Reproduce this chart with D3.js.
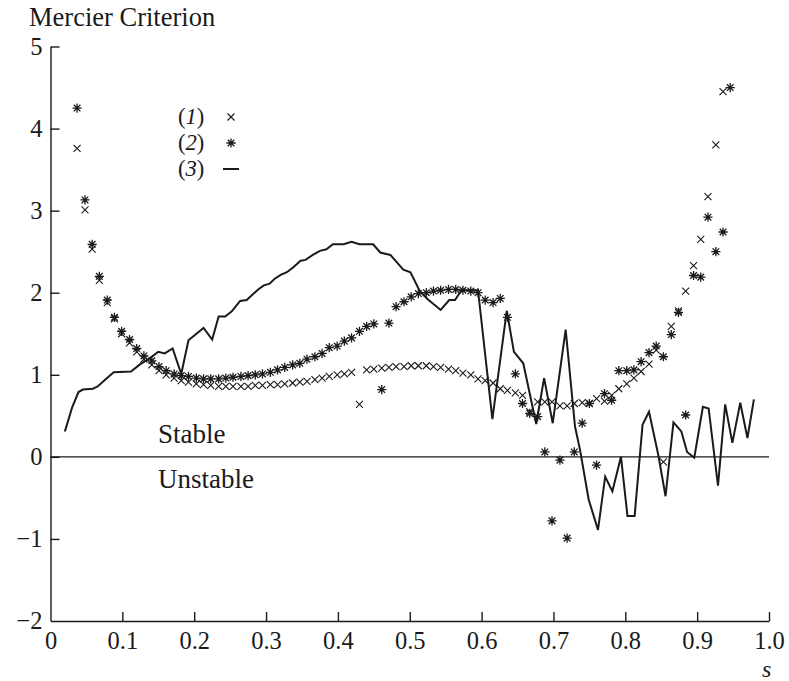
<!DOCTYPE html>
<html>
<head>
<meta charset="utf-8">
<script src="https://cdn.jsdelivr.net/npm/d3@7"></script>
<style>
  html, body { margin: 0; padding: 0; background: #fff; }
  svg { display: block; }
  svg text { font-family: "Liberation Serif", "Tinos", "Nimbus Roman", "Times New Roman", "Times", "DejaVu Serif", serif !important; fill: #1a1a1a; }
</style>
</head>
<body>
<svg id="chart" width="789" height="681"></svg>
<script>
// Radial coordinate s at which the criterion was evaluated (series 1 and 2)
const sGrid = [
  0.037, 0.048, 0.058, 0.068, 0.079, 0.089, 0.099, 0.110, 0.120, 0.130,
  0.141, 0.151, 0.161, 0.172, 0.182, 0.192, 0.203, 0.213, 0.223, 0.234,
  0.244, 0.254, 0.265, 0.275, 0.285, 0.295, 0.306, 0.316, 0.326, 0.337,
  0.347, 0.357, 0.368, 0.378, 0.388, 0.399, 0.409, 0.419, 0.430, 0.440,
  0.450, 0.461, 0.471, 0.481, 0.492, 0.502, 0.512, 0.523, 0.533, 0.543,
  0.554, 0.564, 0.574, 0.585, 0.595, 0.605, 0.616, 0.626, 0.636, 0.647,
  0.657, 0.667, 0.678, 0.688, 0.698, 0.709, 0.719, 0.729, 0.740, 0.750,
  0.760, 0.771, 0.781, 0.791, 0.802, 0.812, 0.822, 0.833, 0.843, 0.853,
  0.864, 0.874, 0.884, 0.895, 0.905, 0.915, 0.926, 0.936, 0.946
];

// Series (1): crosses
const series1 = [
  3.76, 3.01, 2.53, 2.15, 1.88, 1.68, 1.50, 1.39, 1.28, 1.19,
  1.12, 1.05, 1.00, 0.96, 0.93, 0.91, 0.89, 0.88, 0.87, 0.86,
  0.86, 0.86, 0.86, 0.86, 0.87, 0.87, 0.88, 0.88, 0.89, 0.90,
  0.91, 0.92, 0.94, 0.96, 0.98, 1.00, 1.01, 1.03, 0.64, 1.06,
  1.07, 1.08, 1.09, 1.10, 1.10, 1.11, 1.11, 1.11, 1.10, 1.09,
  1.07, 1.05, 1.02, 1.00, 0.95, 0.93, 0.90, 0.83, 0.81, 0.78,
  0.75, 0.55, 0.67, 0.67, 0.67, 0.62, 0.62, 0.65, 0.66, 0.65,
  0.71, 0.68, 0.75, 0.83, 0.89, 0.96, 1.04, 1.13, 1.30, -0.06,
  1.59, 1.78, 2.02, 2.33, 2.65, 3.17, 3.80, 4.45, null
];

// Series (2): asterisks
const series2 = [
  4.25, 3.13, 2.59, 2.20, 1.91, 1.70, 1.53, 1.43, 1.32, 1.23,
  1.17, 1.10, 1.05, 1.01, 0.99, 0.98, 0.96, 0.95, 0.95, 0.95,
  0.96, 0.97, 0.98, 0.99, 1.00, 1.01, 1.03, 1.06, 1.09, 1.12,
  1.14, 1.19, 1.22, 1.26, 1.33, 1.35, 1.41, 1.45, 1.53, 1.59,
  1.62, 0.82, 1.63, 1.83, 1.89, 1.95, 1.99, 2.00, 2.02, 2.03,
  2.04, 2.04, 2.03, 2.02, 2.00, 1.91, 1.88, 1.93, 1.70, 1.01,
  0.65, 0.53, 0.49, 0.06, -0.78, -0.04, -0.99, 0.06, 0.41, 0.65,
  -0.10, 0.77, 0.69, 1.05, 1.05, 1.06, 1.16, 1.27, 1.35, 1.22,
  1.49, 1.76, 0.51, 2.21, 2.19, 2.92, 2.50, 2.74, 4.50
];

// Series (3): solid line
const lineS = [
  0.020, 0.030, 0.039, 0.045, 0.059, 0.066, 0.076, 0.088, 0.112, 0.125,
  0.138, 0.150, 0.159, 0.170, 0.182, 0.192, 0.213, 0.225, 0.234, 0.243,
  0.252, 0.264, 0.273, 0.289, 0.297, 0.305, 0.312, 0.321, 0.329, 0.338,
  0.348, 0.355, 0.365, 0.375, 0.384, 0.393, 0.408, 0.419, 0.430, 0.449,
  0.459, 0.473, 0.491, 0.501, 0.514, 0.525, 0.543, 0.555, 0.563, 0.572,
  0.595, 0.615, 0.635, 0.645, 0.658, 0.676, 0.687, 0.699, 0.717, 0.730,
  0.737, 0.749, 0.762, 0.772, 0.782, 0.794, 0.803, 0.813, 0.824, 0.833,
  0.846, 0.856, 0.867, 0.878, 0.886, 0.896, 0.908, 0.916, 0.929, 0.939,
  0.949, 0.960, 0.970, 0.979
];
const lineV = [
  0.31, 0.60, 0.79, 0.82, 0.83, 0.86, 0.94, 1.03, 1.04, 1.13,
  1.20, 1.28, 1.26, 1.32, 1.01, 1.42, 1.57, 1.43, 1.71, 1.71,
  1.77, 1.90, 1.91, 2.04, 2.09, 2.11, 2.17, 2.22, 2.25, 2.31,
  2.39, 2.40, 2.46, 2.51, 2.53, 2.59, 2.59, 2.62, 2.59, 2.59,
  2.49, 2.46, 2.28, 2.25, 2.02, 1.92, 1.79, 1.91, 1.91, 2.03,
  2.03, 0.46, 1.78, 1.28, 1.14, 0.40, 0.96, 0.41, 1.55, 0.37,
  0.085, -0.52, -0.89, -0.24, -0.42, 0.00, -0.72, -0.72, 0.39, 0.55,
  0.02, -0.48, 0.42, 0.31, 0.06, -0.01, 0.61, 0.59, -0.35, 0.64,
  0.17, 0.66, 0.23, 0.70
];

const xTicks = [0, 0.1, 0.2, 0.3, 0.4, 0.5, 0.6, 0.7, 0.8, 0.9, 1.0];
const xTickLabels = ["0", "0.1", "0.2", "0.3", "0.4", "0.5", "0.6", "0.7", "0.8", "0.9", "1.0"];
const yTicks = [-2, -1, 0, 1, 2, 3, 4, 5];
const yTickLabels = ["\u22122", "\u22121", "0", "1", "2", "3", "4", "5"];

const ink = "#1a1a1a";
const serif = "'Liberation Serif', Tinos, 'Nimbus Roman', 'Times New Roman', Times, 'DejaVu Serif', serif";
const svg = d3.select("#chart");

const x = d3.scaleLinear().domain([0, 1]).range([50.5, 769]);
const y = d3.scaleLinear().domain([-2, 5]).range([621, 46.5]);

// Axes with inward ticks
const xAxis = d3.axisBottom(x)
  .tickValues(xTicks)
  .tickFormat((d, i) => xTickLabels[i])
  .tickSizeInner(-9).tickSizeOuter(0).tickPadding(11);
const yAxis = d3.axisLeft(y)
  .tickValues(yTicks)
  .tickFormat((d, i) => yTickLabels[i])
  .tickSizeInner(-9).tickSizeOuter(0).tickPadding(8);

const gx = svg.append("g").attr("transform", `translate(0,${y(-2)})`).call(xAxis);
const gy = svg.append("g").attr("transform", `translate(${x(0)},0)`).call(yAxis);
[gx, gy].forEach(g => {
  g.attr("font-family", serif).attr("font-size", 24.5);
  g.selectAll("path, line").attr("stroke", ink).attr("stroke-width", 1.4);
  g.selectAll("text").attr("fill", ink);
});
gx.selectAll(".tick").filter(d => d === 0).select("line").remove();
gy.selectAll(".tick").filter(d => d === -2).select("line").remove();

// Zero line separating stable / unstable regions
svg.append("line")
  .attr("x1", x(0)).attr("x2", x(1))
  .attr("y1", y(0)).attr("y2", y(0))
  .attr("stroke", ink).attr("stroke-width", 1.4);

// Series (3) line
const lineData = lineS.map((s, i) => [s, lineV[i]]);
svg.append("path")
  .datum(lineData)
  .attr("fill", "none")
  .attr("stroke", ink)
  .attr("stroke-width", 2)
  .attr("stroke-linejoin", "miter")
  .attr("d", d3.line().x(d => x(d[0])).y(d => y(d[1])));

// Marker symbols
const crossPath = r => `M${-r},${-r}L${r},${r}M${-r},${r}L${r},${-r}`;
const starPath = r => {
  const d = r * 0.72;
  return `M0,${-r}L0,${r}M${-r},0L${r},0M${-d},${-d}L${d},${d}M${-d},${d}L${d},${-d}`;
};

const pts1 = sGrid.map((s, i) => [s, series1[i]]).filter(d => d[1] !== null);
const pts2 = sGrid.map((s, i) => [s, series2[i]]).filter(d => d[1] !== null);

svg.append("g").selectAll("path").data(pts1).join("path")
  .attr("transform", d => `translate(${x(d[0])},${y(d[1])})`)
  .attr("d", crossPath(3.5))
  .attr("fill", "none").attr("stroke", ink).attr("stroke-width", 1.1);

svg.append("g").selectAll("path").data(pts2).join("path")
  .attr("transform", d => `translate(${x(d[0])},${y(d[1])})`)
  .attr("d", starPath(4.6))
  .attr("fill", "none").attr("stroke", ink).attr("stroke-width", 1.3);

// Titles and annotations
const addText = (tx, ty, str, size) => svg.append("text")
  .attr("x", tx).attr("y", ty)
  .attr("font-family", serif).attr("font-size", size)
  .text(str);
addText(29, 26, "Mercier Criterion", 26.5);
addText(762, 677, "s", 24).attr("font-style", "italic");
addText(158, 443, "Stable", 27);
addText(158, 488, "Unstable", 27);

// Legend
const legendLabels = ["1", "2", "3"];
const legendY = [124, 150, 176];
legendLabels.forEach((lab, i) => {
  const t = svg.append("text").attr("x", 178).attr("y", legendY[i])
    .attr("font-family", serif).attr("font-size", 22.5);
  t.append("tspan").text("(");
  t.append("tspan").attr("font-style", "italic").text(lab);
  t.append("tspan").text(")");
});
svg.append("path")
  .attr("transform", `translate(231,${legendY[0] - 7})`)
  .attr("d", crossPath(3.5))
  .attr("fill", "none").attr("stroke", ink).attr("stroke-width", 1.1);
svg.append("path")
  .attr("transform", `translate(231,${legendY[1] - 7})`)
  .attr("d", starPath(4.6))
  .attr("fill", "none").attr("stroke", ink).attr("stroke-width", 1.3);
svg.append("line")
  .attr("x1", 223).attr("x2", 239)
  .attr("y1", legendY[2] - 7).attr("y2", legendY[2] - 7)
  .attr("stroke", ink).attr("stroke-width", 2);
</script>
</body>
</html>
